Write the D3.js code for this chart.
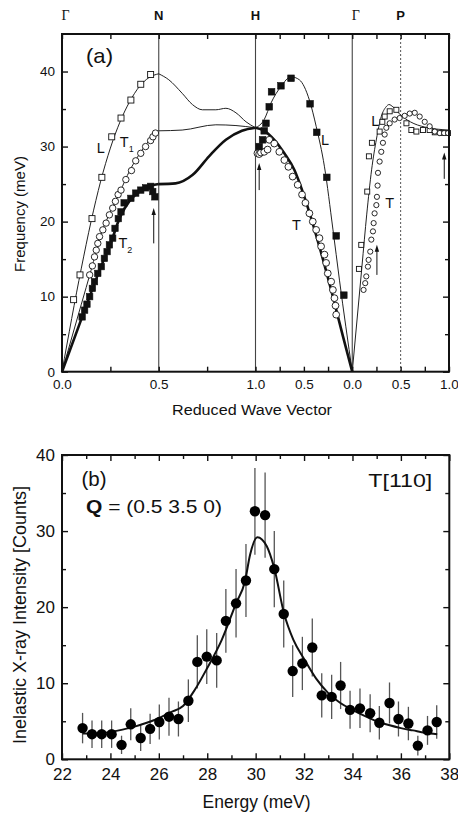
<html>
<head>
<script src="https://d3js.org/d3.v7.min.js"></script>
<style>
  body { margin: 0; background: #fff; }
  text { font-family: "Liberation Sans", Arial, sans-serif; fill: #111; }
  .frame { fill: none; stroke: #111; stroke-width: 2; }
  .axis path { display: none; }
  .axis line { stroke: #111; stroke-width: 1.4; }
  .vline { stroke: #444; stroke-width: 1.1; }
  .thin { fill: none; stroke: #222; stroke-width: 1; }
  .thick { fill: none; stroke: #111; stroke-width: 2.6; }
  .fit { fill: none; stroke: #111; stroke-width: 2; }
  .err { stroke: #555; stroke-width: 1.3; }
</style>
</head>
<body>
<svg id="chart" width="458" height="814"></svg>
<script>
// ---------- panel (a): phonon dispersion ----------
// points are [q, meV], q = reduced wave vector inside each branch segment
// segment 0: Γ->N, 1: N->H, 2: H->Γ, 3: Γ->P
const pointLabels = ["Γ", "N", "H", "Γ", "P"];
const pointU = [0, 1, 2, 3, 3.5];
const xTickU = [0, 0.5, 1, 1.5, 2, 2.25, 2.5, 2.75, 3, 3.25, 3.5, 3.75, 4];
const xTickLabels = ["0.0", "", "0.5", "", "1.0", "", "0.5", "", "0.0", "", "0.5", "", "1.0"];
const yMajorA = [0, 10, 20, 30, 40];
const yMinorA = [5, 15, 25, 35];

// measured points
const gnL = [[0.060,9.6],[0.093,12.9],[0.155,20.4],[0.206,25.9],[0.257,31.3],[0.305,33.8],[0.356,36.2],[0.407,38.3],[0.458,39.6]];
const gnT1 = [[0.143,12.9],[0.157,14.1],[0.168,15.3],[0.177,16.2],[0.185,17.1],[0.194,18.0],[0.211,18.9],[0.228,19.8],[0.245,20.9],[0.262,21.8],[0.276,22.7],[0.29,23.6],[0.305,24.2],[0.33,25.6],[0.359,26.8],[0.381,28.1],[0.407,29.1],[0.432,30.0],[0.458,30.8],[0.47,31.3],[0.483,31.8]];
const gnT2 = [[0.104,7.3],[0.117,8.2],[0.129,9.0],[0.143,10.0],[0.157,11.1],[0.168,12.0],[0.185,13.1],[0.203,14.0],[0.219,15.1],[0.233,16.0],[0.245,16.9],[0.262,17.8],[0.274,19.1],[0.291,20.4],[0.305,21.3],[0.321,22.5],[0.356,23.1],[0.381,23.8],[0.407,24.2],[0.432,24.5],[0.458,24.7],[0.469,24.0],[0.480,23.3]];
const hgL = [[0.962,30.0],[0.927,30.9],[0.910,32.1],[0.892,33.1],[0.858,35.3],[0.834,37.3],[0.737,38.1],[0.633,39.1],[0.436,35.7],[0.367,31.9],[0.263,25.9],[0.166,18.1],[0.087,10.2]];
const hgT = [[0.98,29.1],[0.962,29.0],[0.944,29.2],[0.91,29.3],[0.875,29.6],[0.858,30.9],[0.806,30.4],[0.754,29.3],[0.702,28.2],[0.66,27.3],[0.616,26.0],[0.564,24.9],[0.519,23.6],[0.484,22.5],[0.443,21.1],[0.408,20.0],[0.373,18.9],[0.339,17.8],[0.322,16.7],[0.287,15.6],[0.27,14.5],[0.253,13.1],[0.218,12.0],[0.2,10.9],[0.184,9.8],[0.173,8.8],[0.166,7.6]];
const gpL = [[0.069,13.7],[0.093,16.9],[0.155,24.0],[0.172,28.7],[0.203,30.5],[0.283,32.0],[0.311,33.3],[0.335,34.0],[0.387,34.7],[0.456,34.9],[0.56,33.1],[0.611,32.2],[0.663,32.0],[0.731,32.2],[0.80,32.2],[0.853,31.9],[0.922,31.8],[0.99,31.8]];
const gpT = [[0.117,10.9],[0.134,11.8],[0.145,12.7],[0.162,14.0],[0.169,14.9],[0.186,16.0],[0.197,17.6],[0.214,18.7],[0.221,19.8],[0.231,21.1],[0.249,22.2],[0.255,23.3],[0.262,24.8],[0.266,26.5],[0.283,28.0],[0.30,29.3],[0.317,30.5],[0.335,31.6],[0.352,32.5],[0.387,33.1],[0.438,33.6],[0.49,33.8],[0.542,34.1],[0.594,34.4],[0.646,34.5],[0.697,34.0],[0.749,33.3],[0.80,32.7],[0.853,32.0],[0.904,31.8],[0.949,31.8],[0.99,31.8]];

// model curves
const gnLline = [[0,0],[0.1,13.8],[0.15,20.0],[0.2,25.4],[0.25,29.8],[0.3,33.3],[0.35,36.0],[0.4,38.0],[0.45,39.2],[0.5,39.7]];
const gnT1line = [[0,0],[0.1,9.0],[0.15,13.5],[0.2,18.2],[0.25,21.3],[0.3,24.0],[0.35,26.8],[0.4,29.0],[0.45,30.8],[0.5,32.1]];
const gnT2line = [[0,0],[0.1,7.0],[0.2,13.9],[0.25,17.0],[0.3,20.6],[0.35,22.8],[0.4,24.0],[0.45,24.7],[0.5,25.0]];
const nhLline = [[0.5,39.7],[0.552,38.9],[0.621,37.1],[0.674,35.6],[0.726,34.9],[0.795,34.9],[0.847,35.1],[0.899,34.5],[0.951,33.3],[1.0,32.5]];
const nhT1line = [[0.5,32.1],[0.621,32.2],[0.795,32.9],[0.899,32.8],[1.0,32.5]];
const nhT2line = [[0.5,25.0],[0.587,25.1],[0.674,26.2],[0.76,28.7],[0.847,30.9],[0.93,32.1],[1.0,32.5]];
const hgLline = [[1.0,32.5],[0.91,33.6],[0.84,35.8],[0.737,38.0],[0.633,39.3],[0.547,38.9],[0.443,36.2],[0.373,32.7],[0.287,27.3],[0.2,19.0],[0.132,12.2],[0,0]];
const hgTline = [[1.0,32.5],[0.91,32.1],[0.806,30.9],[0.702,29.1],[0.599,26.9],[0.5,23.5],[0.34,16.7],[0.2,10.0],[0.096,4.7],[0,0]];
const gpLline = [[0,0],[0.1,14.0],[0.15,21.0],[0.2,26.9],[0.25,31.0],[0.3,34.0],[0.35,35.3],[0.38,35.6],[0.42,35.3],[0.5,34.2],[0.6,33.3],[0.75,32.6],[1.0,32.2]];

// branch labels [segment, q, meV, text, subscript]
const branchLabels = [[0,0.18,29.2,"L",""],[0,0.299,30.0,"T","1"],[0,0.292,16.45,"T","2"],[2,0.322,30.2,"L",""],[2,0.622,18.9,"T",""],[3,0.197,32.7,"L",""],[3,0.342,21.8,"T",""]];
// arrows [segment, q, tail meV, head meV]
const arrowsA = [[0,0.474,17.1,21.8],[2,0.962,24.2,27.8],[3,0.255,12.9,16.9],[3,0.951,25.7,29.2]];

// ---------- panel (b): energy scan ----------
const energy = [22.85,23.24,23.64,24.05,24.46,24.84,25.25,25.64,26.02,26.42,26.81,27.22,27.59,27.98,28.39,28.77,29.19,29.60,29.97,30.39,30.77,31.16,31.53,31.93,32.34,32.73,33.14,33.51,33.90,34.31,34.73,35.11,35.53,35.90,36.31,36.70,37.10,37.48];
const counts = [4.1,3.3,3.3,3.3,1.9,4.6,2.8,4.0,4.9,5.6,5.3,7.7,12.8,13.5,13.0,18.2,20.5,23.5,32.6,32.1,25.0,19.1,11.6,12.6,14.7,8.4,8.2,9.7,6.5,6.7,6.05,4.8,7.4,5.3,4.7,1.8,3.8,4.9];
const errs = [2.0,1.8,1.8,1.8,1.2,2.1,1.7,2.0,2.3,2.5,2.3,2.8,3.5,3.6,3.6,4.2,4.5,4.8,5.7,5.6,5.0,4.4,3.4,3.5,3.8,2.9,2.9,3.1,2.5,2.6,2.5,2.2,2.7,2.3,2.2,1.3,1.9,2.2];
const fitE = [22.85,23.5,24,24.5,25,25.5,26,26.5,27,27.5,28,28.6,29.19,29.56,29.77,30.07,30.46,30.77,31.17,31.56,32,32.5,33,33.5,34,34.5,35,35.5,36,36.5,37,37.5];
const fitC = [3.4,3.4,3.6,3.9,4.3,4.8,5.4,6.2,7.0,9.2,12.0,15.7,20.5,23.4,26.9,29.2,28.0,25.1,19.2,15.7,13.2,10.6,8.7,7.4,6.5,5.7,5.0,4.5,4.1,3.8,3.5,3.3];
const xTicksB = [22, 24, 26, 28, 30, 32, 34, 36, 38];
const xMinorB = [23, 25, 27, 29, 31, 33, 35, 37];
const yMajorB = [0, 10, 20, 30, 40];
const yMinorB = [5, 15, 25, 35];

const svg = d3.select("#chart");

// segment coordinate -> continuous path coordinate u
function toU(seg, q) {
  if (seg === 0) return q * 2;
  if (seg === 1) return 1 + (q - 0.5) * 2;
  if (seg === 2) return 2 + (1 - q);
  return 3 + q;
}

/* ===== panel (a) ===== */
const xa = d3.scaleLinear().domain([0, 4]).range([62, 449]);
const ya = d3.scaleLinear().domain([0, 45]).range([371.7, 34]);
const ga = svg.append("g");

// vertical symmetry lines
ga.selectAll("line.vline").data(pointU.slice(1, 4)).join("line")
  .attr("class", "vline")
  .attr("x1", d => xa(d)).attr("x2", d => xa(d))
  .attr("y1", ya(45)).attr("y2", ya(0));
ga.append("line")
  .attr("x1", xa(pointU[4])).attr("x2", xa(pointU[4]))
  .attr("y1", ya(45)).attr("y2", ya(0))
  .attr("stroke", "#555").attr("stroke-width", 1).attr("stroke-dasharray", "2,2");

const lineA = seg => d3.line()
  .x(d => xa(toU(seg, d[0])))
  .y(d => ya(d[1]))
  .curve(d3.curveMonotoneX);

const curves = [
  [0, gnLline, "thin"], [0, gnT1line, "thin"], [0, gnT2line, "thick"],
  [1, nhLline, "thin"], [1, nhT1line, "thin"], [1, nhT2line, "thick"],
  [2, hgLline, "thin"], [2, hgTline, "thick"],
  [3, gpLline, "thin"]
];
curves.forEach(c => {
  ga.append("path").datum(c[1]).attr("class", c[2]).attr("d", lineA(c[0]));
});

// markers
function squares(seg, data, size, filled) {
  ga.append("g").selectAll("rect").data(data).join("rect")
    .attr("x", d => xa(toU(seg, d[0])) - size / 2)
    .attr("y", d => ya(d[1]) - size / 2)
    .attr("width", size).attr("height", size)
    .attr("fill", filled ? "#111" : "#fff")
    .attr("stroke", "#111").attr("stroke-width", filled ? 0.6 : 0.9);
}
function circles(seg, data, r) {
  ga.append("g").selectAll("circle").data(data).join("circle")
    .attr("cx", d => xa(toU(seg, d[0])))
    .attr("cy", d => ya(d[1]))
    .attr("r", r)
    .attr("fill", "#fff").attr("stroke", "#111").attr("stroke-width", 0.9);
}
squares(0, gnL, 6, false);
circles(0, gnT1, 3.2);
squares(0, gnT2, 6.4, true);
circles(2, hgT, 3.4);
squares(2, hgL, 6.6, true);
squares(3, gpL, 5, false);
circles(3, gpT, 2.6);

// arrows
arrowsA.forEach(a => {
  const x = xa(toU(a[0], a[1]));
  const y0 = ya(a[2]), y1 = ya(a[3]);
  ga.append("line").attr("x1", x).attr("x2", x).attr("y1", y0).attr("y2", y1 + 5)
    .attr("stroke", "#111").attr("stroke-width", 1);
  ga.append("path")
    .attr("d", `M${x},${y1} L${x - 2.2},${y1 + 7} L${x + 2.2},${y1 + 7} Z`)
    .attr("fill", "#111");
});

// branch labels
branchLabels.forEach(b => {
  const t = ga.append("text")
    .attr("x", xa(toU(b[0], b[1])))
    .attr("y", ya(b[2]))
    .attr("font-size", 14.5)
    .text(b[3]);
  if (b[4]) t.append("tspan").attr("font-size", 9).attr("dy", 5).text(b[4]);
});

// axes
ga.append("g").attr("class", "axis").attr("transform", `translate(0,${ya(0)})`)
  .call(d3.axisBottom(xa).tickValues(xTickU).tickSize(-5).tickPadding(8)
    .tickFormat((d, i) => xTickLabels[i]))
  .selectAll("text").attr("font-size", 13.5);
ga.append("g").attr("class", "axis").attr("transform", `translate(0,${ya(45)})`)
  .call(d3.axisTop(xa).tickValues(xTickU).tickSize(-5).tickFormat(""));
ga.append("g").attr("class", "axis").attr("transform", `translate(${xa(0)},0)`)
  .call(d3.axisLeft(ya).tickValues(yMajorA).tickSize(-6).tickPadding(7))
  .selectAll("text").attr("font-size", 13.5);
ga.append("g").attr("class", "axis").attr("transform", `translate(${xa(0)},0)`)
  .call(d3.axisLeft(ya).tickValues(yMinorA).tickSize(-4).tickFormat(""));
ga.append("g").attr("class", "axis").attr("transform", `translate(${xa(4)},0)`)
  .call(d3.axisRight(ya).tickValues(yMajorA).tickSize(-6).tickFormat(""));
ga.append("g").attr("class", "axis").attr("transform", `translate(${xa(4)},0)`)
  .call(d3.axisRight(ya).tickValues(yMinorA).tickSize(-4).tickFormat(""));
ga.append("rect").attr("class", "frame")
  .attr("x", xa(0)).attr("y", ya(45))
  .attr("width", xa(4) - xa(0)).attr("height", ya(0) - ya(45));

// symmetry point names
ga.selectAll("text.pt").data(pointLabels).join("text")
  .attr("class", "pt")
  .attr("x", (d, i) => xa(pointU[i]) + (d === "Γ" ? 3.5 : 0))
  .attr("y", 19.5)
  .attr("text-anchor", "middle")
  .attr("font-size", d => d === "Γ" ? 14 : 13)
  .attr("font-weight", d => d === "Γ" ? "normal" : "bold")
  .style("font-family", d => d === "Γ" ? "'Liberation Serif', serif" : null)
  .text(d => d);

ga.append("text").attr("x", 86).attr("y", 63).attr("font-size", 21)
  .attr("textLength", 27).attr("lengthAdjust", "spacingAndGlyphs").text("(a)");
ga.append("text").attr("x", 252).attr("y", 415).attr("text-anchor", "middle")
  .attr("font-size", 15.5).attr("textLength", 160).attr("lengthAdjust", "spacingAndGlyphs")
  .text("Reduced Wave Vector");
ga.append("text").attr("transform", "translate(25,214) rotate(-90)")
  .attr("text-anchor", "middle").attr("font-size", 15).text("Frequency (meV)");

/* ===== panel (b) ===== */
const xb = d3.scaleLinear().domain([22, 38]).range([62, 449.3]);
const yb = d3.scaleLinear().domain([0, 40]).range([759.3, 455]);
const gb = svg.append("g");

const pts = energy.map((e, i) => ({ e: e, c: counts[i], s: errs[i] }));

gb.append("g").selectAll("line").data(pts).join("line")
  .attr("class", "err")
  .attr("x1", d => xb(d.e)).attr("x2", d => xb(d.e))
  .attr("y1", d => yb(d.c - d.s)).attr("y2", d => yb(d.c + d.s));

gb.append("path").datum(fitE.map((e, i) => [e, fitC[i]]))
  .attr("class", "fit")
  .attr("d", d3.line().x(d => xb(d[0])).y(d => yb(d[1])).curve(d3.curveMonotoneX));

gb.append("g").selectAll("circle").data(pts).join("circle")
  .attr("cx", d => xb(d.e)).attr("cy", d => yb(d.c))
  .attr("r", 5.2).attr("fill", "#000");

gb.append("g").attr("class", "axis").attr("transform", `translate(0,${yb(0)})`)
  .call(d3.axisBottom(xb).tickValues(xTicksB).tickSize(-6).tickPadding(9))
  .selectAll("text").attr("font-size", 17);
gb.append("g").attr("class", "axis").attr("transform", `translate(0,${yb(0)})`)
  .call(d3.axisBottom(xb).tickValues(xMinorB).tickSize(-4).tickFormat(""));
gb.append("g").attr("class", "axis").attr("transform", `translate(0,${yb(40)})`)
  .call(d3.axisTop(xb).tickValues(xTicksB).tickSize(-6).tickFormat(""));
gb.append("g").attr("class", "axis").attr("transform", `translate(0,${yb(40)})`)
  .call(d3.axisTop(xb).tickValues(xMinorB).tickSize(-4).tickFormat(""));
gb.append("g").attr("class", "axis").attr("transform", `translate(${xb(22)},0)`)
  .call(d3.axisLeft(yb).tickValues(yMajorB).tickSize(-6).tickPadding(7))
  .selectAll("text").attr("font-size", 17);
gb.append("g").attr("class", "axis").attr("transform", `translate(${xb(22)},0)`)
  .call(d3.axisLeft(yb).tickValues(yMinorB).tickSize(-4).tickFormat(""));
gb.append("g").attr("class", "axis").attr("transform", `translate(${xb(38)},0)`)
  .call(d3.axisRight(yb).tickValues(yMajorB).tickSize(-6).tickFormat(""));
gb.append("g").attr("class", "axis").attr("transform", `translate(${xb(38)},0)`)
  .call(d3.axisRight(yb).tickValues(yMinorB).tickSize(-4).tickFormat(""));
gb.append("rect").attr("class", "frame")
  .attr("x", xb(22)).attr("y", yb(40))
  .attr("width", xb(38) - xb(22)).attr("height", yb(0) - yb(40));

gb.append("text").attr("x", 81.5).attr("y", 486).attr("font-size", 19.5)
  .attr("textLength", 25).attr("lengthAdjust", "spacingAndGlyphs").text("(b)");
const q = gb.append("text").attr("x", 86).attr("y", 513).attr("font-size", 19)
  .attr("textLength", 136).attr("lengthAdjust", "spacingAndGlyphs");
q.append("tspan").attr("font-weight", "bold").text("Q");
q.append("tspan").text(" = (0.5 3.5 0)");
gb.append("text").attr("x", 368.3).attr("y", 486.5)
  .attr("font-size", 18.5).attr("textLength", 64).attr("lengthAdjust", "spacingAndGlyphs")
  .text("T[110]");
gb.append("text").attr("x", 256.5).attr("y", 808).attr("text-anchor", "middle")
  .attr("font-size", 17.5).text("Energy (meV)");
gb.append("text").attr("transform", "translate(26,615) rotate(-90)")
  .attr("text-anchor", "middle").attr("font-size", 18).text("Inelastic X-ray Intensity [Counts]");
</script>
</body>
</html>
